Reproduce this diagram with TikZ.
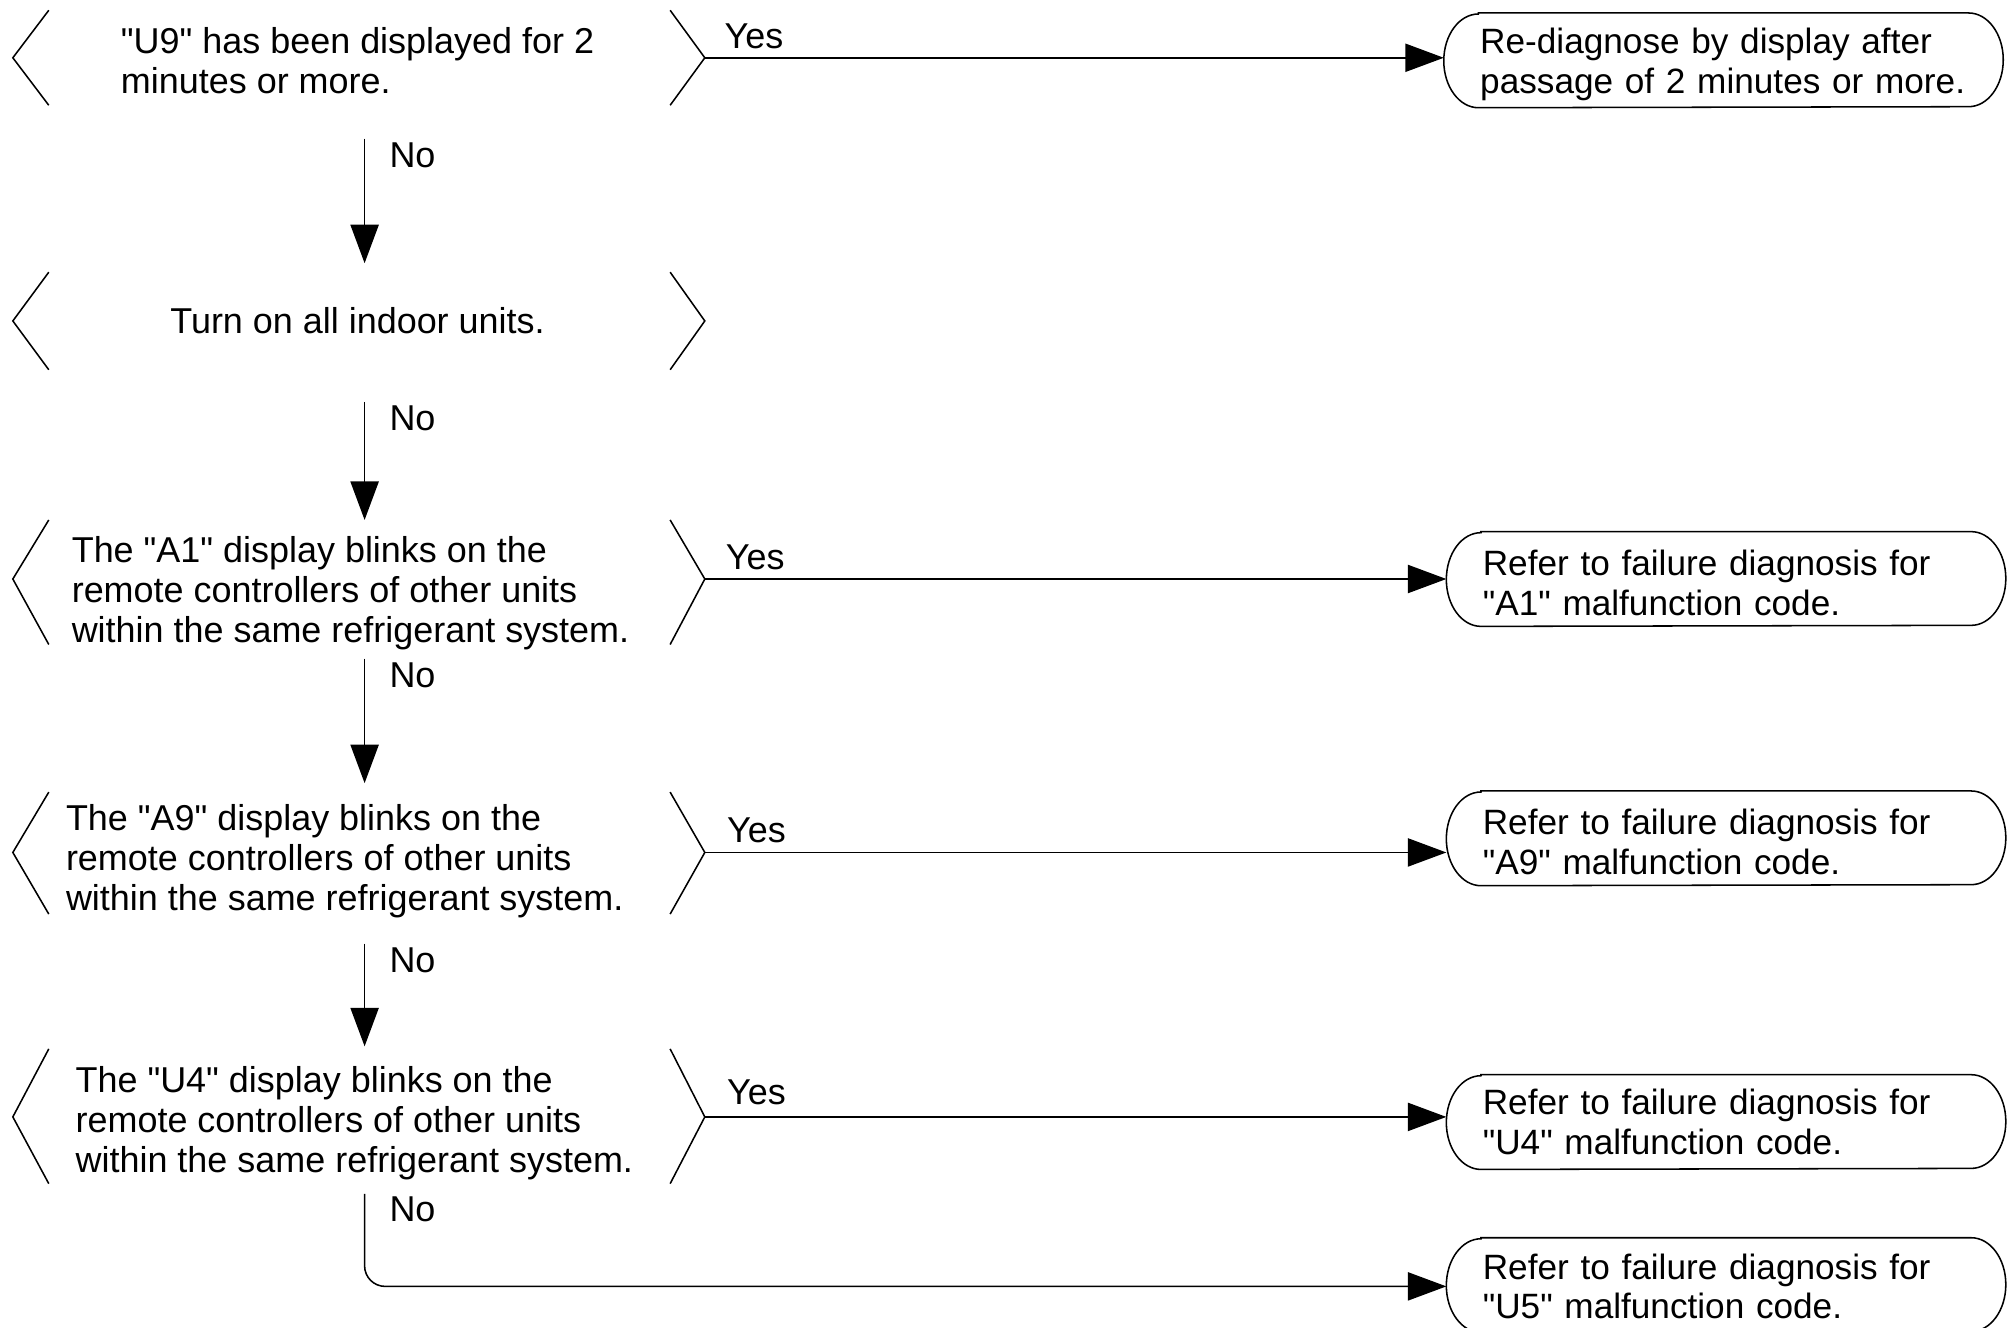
\documentclass[tikz,border=0pt]{standalone}
\usepackage{fontspec}
\newfontfamily\diafont{Liberation Sans}
\usetikzlibrary{arrows.meta,calc}
\begin{document}
\begin{tikzpicture}[x=0.5pt,y=-0.5pt,
  every node/.style={font=\diafont\fontsize{14pt}{15.5pt}\selectfont},
  dec/.style={inner sep=0pt, align=left},
  term/.style={minimum height=36.5pt, text width=189.5pt, inner xsep=14pt, inner ysep=0pt, align=left,
               font=\diafont\fontsize{13.7pt}{15.5pt}\selectfont},
  ln/.style={line width=0.6pt},
  arr/.style={line width=0.6pt, -{Triangle[length=15pt,width=11pt]}},
  lbl/.style={inner sep=0pt, anchor=west}]
\useasboundingbox (0,0) rectangle (1568,1034);
\clip (0,0) rectangle (1568,1034);
\coordinate (axis) at (279.5,0);

% decisions
\node[dec] (d1) at (278.5,47.5) {"U9" has been displayed for 2\\minutes or more.};
\node[dec] (d2) at (278.5,249.5) {Turn on all indoor units.};
\node[dec] (d3) at (273,462) {The "A1" display blinks on the\\remote controllers of other units\\within the same refrigerant system.};
\node[dec] (d4) at (268.5,671) {The "A9" display blinks on the\\remote controllers of other units\\within the same refrigerant system.};
\node[dec] (d5) at (276,875) {The "U4" display blinks on the\\remote controllers of other units\\within the same refrigerant system.};

\foreach \n/\tp/\tip/\bt in {d1/-39.5/-2.5/34.5, d2/-37.5/0.5/38.5, d3/-57/-11/40, d4/-54/-7/41, d5/-58/-5/47} {
  \coordinate (\n-t) at ($(\n.center -| axis)+(0,\tp)$);
  \coordinate (\n-b) at ($(\n.center -| axis)+(0,\bt)$);
  \coordinate (\n-l) at ($(\n.center -| axis)+(-269.5,\tip)$);
  \coordinate (\n-r) at ($(\n.center -| axis)+(269.5,\tip)$);
  \draw[ln] ($(\n-t)+(-241.5,0)$) -- (\n-l) -- ($(\n-b)+(-241.5,0)$);
  \draw[ln] ($(\n-t)+(242.5,0)$) -- (\n-r) -- ($(\n-b)+(242.5,0)$);
}

% terminals
\node[term] (t1) at (1342.5,50)  {\mbox{Re-diagnose by display after}\\\mbox{passage of 2 minutes or more.}};
\node[term] (t2) at (1344.5,454) {\mbox{Refer to failure diagnosis for}\\\mbox{"A1" malfunction code.}};
\node[term] (t3) at (1344.5,656) {\mbox{Refer to failure diagnosis for}\\\mbox{"A9" malfunction code.}};
\node[term] (t4) at (1344.5,874) {\mbox{Refer to failure diagnosis for}\\\mbox{"U4" malfunction code.}};
\node[term] (t5) at (1344.5,1002) {\mbox{Refer to failure diagnosis for}\\\mbox{"U5" malfunction code.}};

\foreach \n/\dy in {t1/-3,t2/-3,t3/-3,t4/0,t5/-1} {
  \draw[ln] ($(\n.north west)+(13.5pt,0)+(0,\dy)$) -- ($(\n.north east)+(-13.5pt,0)+(0,\dy)$)
    arc[start angle=90,end angle=-90,x radius=13.5pt,y radius=18.25pt]
    -- ($(\n.south west)+(13.5pt,0)+(0,\dy)$)
    arc[start angle=270,end angle=90,x radius=13.5pt,y radius=18.25pt] -- cycle;
}

% yes connectors
\draw[arr] (d1-r) -- (d1-r -| t1.west);
\draw[arr] (d3-r) -- (d3-r -| t2.west);
\draw[arr] (d4-r) -- (d4-r -| t3.west);
\draw[arr] (d5-r) -- (d5-r -| t4.west);
\node[lbl] (y1) at ($(d1-r)+(15,-17)$) {Yes};
\node[lbl] (y3) at ($(d3-r)+(16,-17)$) {Yes};
\node[lbl] (y4) at ($(d4-r)+(17,-17)$) {Yes};
\node[lbl] (y5) at ($(d5-r)+(17,-19)$) {Yes};

% no connectors
\coordinate (s1) at ($(d1-b)+(4.5,26)$);
\coordinate (e1) at ($(d2-t)+(4.5,-7)$);
\coordinate (s2) at ($(d2-b)+(4.5,25)$);
\coordinate (e2) at ($(d3-t)+(4.5,0)$);
\coordinate (s3) at ($(d3-b)+(4.5,11)$);
\coordinate (e3) at ($(d4-t)+(4.5,-7)$);
\coordinate (s4) at ($(d4-b)+(4.5,23)$);
\coordinate (e4) at ($(d5-t)+(4.5,-2)$);
\coordinate (s5) at ($(d5-b)+(4.5,8)$);
\draw[arr] (s1) -- (e1);
\draw[arr] (s2) -- (e2);
\draw[arr] (s3) -- (e3);
\draw[arr] (s4) -- (e4);
\draw[arr, rounded corners=8pt] (s5) |- (t5.west);
\node[lbl] (n1) at ($(s1)+(19,13)$) {No};
\node[lbl] (n2) at ($(s2)+(19,13)$) {No};
\node[lbl] (n3) at ($(s3)+(19,13)$) {No};
\node[lbl] (n4) at ($(s4)+(19,13)$) {No};
\node[lbl] (n5) at ($(s5)+(19,12)$) {No};
\end{tikzpicture}
\end{document}
